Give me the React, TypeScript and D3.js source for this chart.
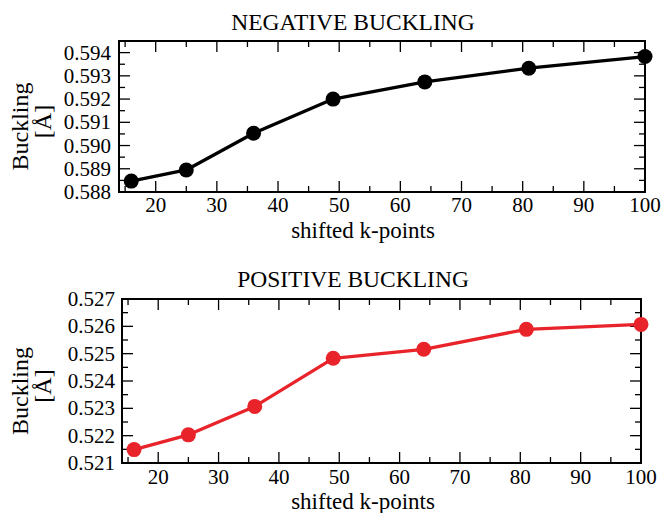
import React from "react";
import * as d3 from "d3";

const kPoints = [16, 25, 36, 49, 64, 81, 100];
const negativeBuckling = [0.58847, 0.58895, 0.59053, 0.592, 0.59274, 0.59333, 0.59383];
const positiveBuckling = [0.52149, 0.52203, 0.52307, 0.52483, 0.52516, 0.52589, 0.52607];
const xTickLabels = [20, 30, 40, 50, 60, 70, 80, 90, 100];
const xMinorTicks = [15, 25, 35, 45, 55, 65, 75, 85, 95];
const negYTicks = [0.588, 0.589, 0.59, 0.591, 0.592, 0.593, 0.594];
const negYMinor = [0.5885, 0.5895, 0.5905, 0.5915, 0.5925, 0.5935, 0.5945];
const posYTicks = [0.521, 0.522, 0.523, 0.524, 0.525, 0.526, 0.527];
const posYMinor = [0.5215, 0.5225, 0.5235, 0.5245, 0.5255, 0.5265];

const FONT = "'Liberation Serif', 'Times New Roman', serif";

type PanelProps = {
  left: number; right: number; top: number; bottom: number;
  yDomain: [number, number];
  yTicks: number[]; yMinor: number[];
  values: number[]; color: string;
  title: string; titleY: number;
  xLabelY: number; tickLabelOffset: number; yLabelRight: number;
};

function Panel(p: PanelProps) {
  const x = d3.scaleLinear().domain([14, 100]).range([p.left, p.right]);
  const y = d3.scaleLinear().domain(p.yDomain).range([p.bottom, p.top]);
  const pts: [number, number][] = kPoints.map((k, i) => [x(k), y(p.values[i])]);
  const line = d3.line()(pts) || "";
  const major = 11, minor = 6;
  const yMid = (p.top + p.bottom) / 2;
  return (
    <g fontFamily={FONT} fill="#000">
      <text x={353} y={p.titleY} fontSize={23.5} textAnchor="middle">{p.title}</text>
      {xTickLabels.map((t) => (
        <g key={"xt" + t} stroke="#000" strokeWidth={1.3}>
          <line x1={x(t)} x2={x(t)} y1={p.bottom} y2={p.bottom - major} />
          <line x1={x(t)} x2={x(t)} y1={p.top} y2={p.top + major} />
        </g>
      ))}
      {xMinorTicks.map((t) => (
        <g key={"xm" + t} stroke="#000" strokeWidth={1.3}>
          <line x1={x(t)} x2={x(t)} y1={p.bottom} y2={p.bottom - minor} />
          <line x1={x(t)} x2={x(t)} y1={p.top} y2={p.top + minor} />
        </g>
      ))}
      {p.yTicks.map((t) => (
        <g key={"yt" + t} stroke="#000" strokeWidth={1.3}>
          <line x1={p.left} x2={p.left + major} y1={y(t)} y2={y(t)} />
          <line x1={p.right} x2={p.right - major} y1={y(t)} y2={y(t)} />
        </g>
      ))}
      {p.yMinor.map((t) => (
        <g key={"ym" + t} stroke="#000" strokeWidth={1.3}>
          <line x1={p.left} x2={p.left + minor} y1={y(t)} y2={y(t)} />
          <line x1={p.right} x2={p.right - minor} y1={y(t)} y2={y(t)} />
        </g>
      ))}
      <rect x={p.left} y={p.top} width={p.right - p.left} height={p.bottom - p.top}
        fill="none" stroke="#000" strokeWidth={2} />
      {xTickLabels.map((t) => (
        <text key={"xl" + t} x={x(t)} y={p.bottom + p.tickLabelOffset} fontSize={21} textAnchor="middle">{t}</text>
      ))}
      {p.yTicks.map((t) => (
        <text key={"yl" + t} x={p.yLabelRight} y={y(t) + 7} fontSize={21} textAnchor="end">{d3.format(".3f")(t)}</text>
      ))}
      <text x={363} y={p.xLabelY} fontSize={23} textAnchor="middle">shifted k-points</text>
      <text transform={`translate(28,${yMid + 10}) rotate(-90)`} fontSize={24} textAnchor="middle">Buckling</text>
      <text transform={`translate(51,${yMid + 5}) rotate(-90)`} fontSize={24} textAnchor="middle">[Å]</text>
      <path d={line} fill="none" stroke={p.color} strokeWidth={3.3} strokeLinejoin="round" />
      {pts.map((q, i) => (
        <circle key={"c" + i} cx={q[0]} cy={q[1]} r={7.5} fill={p.color} />
      ))}
    </g>
  );
}

export default function App() {
  return (
    <svg width={664} height={513} style={{ position: "absolute", left: 0, top: 0, background: "#fff" }}>
      <rect width={664} height={513} fill="#fff" />
      <Panel left={119} right={645} top={41} bottom={192} yDomain={[0.588, 0.5945]}
        yTicks={negYTicks} yMinor={negYMinor} values={negativeBuckling} color="#000"
        title="NEGATIVE BUCKLING" titleY={30} xLabelY={238} tickLabelOffset={20} yLabelRight={111} />
      <Panel left={122} right={641} top={299} bottom={463} yDomain={[0.521, 0.527]}
        yTicks={posYTicks} yMinor={posYMinor} values={positiveBuckling} color="#e8232a"
        title="POSITIVE BUCKLING" titleY={287} xLabelY={509} tickLabelOffset={21} yLabelRight={115} />
    </svg>
  );
}
